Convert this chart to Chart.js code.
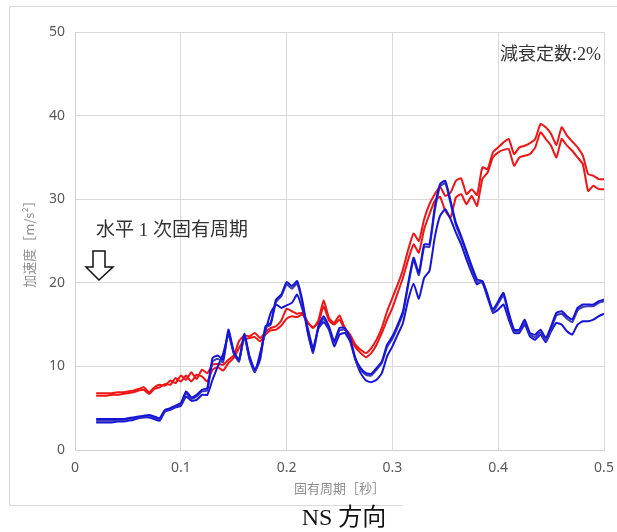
<!DOCTYPE html>
<html lang="ja">
<head>
<meta charset="UTF-8">
<title>NS 方向 加速度応答スペクトル</title>
<script src="https://cdn.jsdelivr.net/npm/chart.js"></script>
<style>
  body { margin: 0; padding: 0; background: #ffffff; }
  #wrap { position: relative; width: 617px; height: 532px; }
</style>
</head>
<body>
<div id="wrap"><canvas id="myChart" width="617" height="532"></canvas></div>
<script>
// 固有周期 [秒]
var periods = [
  0.020, 0.025, 0.030, 0.035, 0.040, 0.045, 0.050, 0.055, 0.060, 0.065,
  0.070, 0.075, 0.080, 0.085, 0.090, 0.095, 0.100, 0.105, 0.110, 0.115,
  0.120, 0.125, 0.130, 0.135, 0.140, 0.145, 0.150, 0.155, 0.160, 0.165,
  0.170, 0.175, 0.180, 0.185, 0.190, 0.195, 0.200, 0.205, 0.210, 0.215,
  0.220, 0.225, 0.230, 0.235, 0.240, 0.245, 0.250, 0.255, 0.260, 0.265,
  0.270, 0.275, 0.280, 0.285, 0.290, 0.295, 0.300, 0.305, 0.310, 0.315,
  0.320, 0.325, 0.330, 0.335, 0.340, 0.345, 0.350, 0.355, 0.360, 0.365,
  0.370, 0.375, 0.380, 0.385, 0.390, 0.395, 0.400, 0.405, 0.410, 0.415,
  0.420, 0.425, 0.430, 0.435, 0.440, 0.445, 0.450, 0.455, 0.460, 0.465,
  0.470, 0.475, 0.480, 0.485, 0.490, 0.495, 0.500
];

// 赤線 (上側)
var red1 = [
  6.8, 6.8, 6.8, 6.8, 6.9, 6.9, 7.0, 7.1, 7.3, 7.5,
  6.9, 7.5, 7.8, 7.7, 8.3, 8.0, 8.9, 8.4, 9.3, 8.5,
  9.6, 9.2, 10.2, 10.3, 10.2, 10.8, 11.3, 13.0, 13.7, 13.6,
  14.0, 13.4, 14.1, 14.6, 14.8, 15.5, 16.9, 16.6, 16.3, 16.4,
  15.3, 14.6, 15.5, 17.9, 15.8, 15.2, 16.1, 14.6, 13.8, 12.6,
  12.0, 11.6, 12.2, 13.2, 14.6, 16.6, 18.2, 19.8, 21.6, 24.0,
  25.9, 25.0, 27.6, 29.4, 30.6, 31.5, 30.4, 30.8, 32.2, 32.5,
  30.6, 31.2, 30.5, 33.8, 33.6, 35.6, 36.2, 36.8, 37.2, 35.4,
  36.2, 36.4, 36.7, 37.2, 39.0, 38.6, 37.8, 36.5, 38.6, 37.6,
  36.9, 36.2, 35.2, 33.0, 32.8, 32.4, 32.4
];

// 赤線 (下側)
var red2 = [
  6.5, 6.5, 6.5, 6.6, 6.6, 6.7, 6.8, 6.9, 7.1, 7.2,
  6.7, 7.3, 7.5, 7.9, 7.8, 8.6, 8.2, 8.9, 8.2, 9.0,
  8.8, 8.2, 9.6, 9.9, 9.5, 10.4, 11.0, 12.2, 13.2, 13.4,
  13.5, 13.0, 13.8, 14.3, 14.4, 14.9, 15.7, 16.0, 15.9, 16.2,
  15.2, 14.7, 15.2, 17.2, 15.5, 15.0, 15.6, 14.4, 13.5, 12.3,
  11.6, 11.1, 11.6, 12.6, 14.0, 15.6, 17.0, 18.8, 20.6, 22.8,
  24.6, 23.6, 26.4, 28.2, 29.8, 30.3, 28.6, 27.8, 30.2, 30.6,
  29.4, 30.4, 29.2, 32.4, 33.2, 35.0, 35.6, 35.9, 36.0, 34.0,
  35.0, 35.2, 35.4, 36.2, 38.0, 37.2, 36.4, 35.0, 37.2, 36.4,
  35.8, 35.0, 34.2, 31.0, 31.6, 31.2, 31.2
];

// 青線 (上側)
var blue1 = [
  3.7, 3.7, 3.7, 3.7, 3.7, 3.7, 3.8, 3.9, 4.0, 4.1,
  4.2, 4.0, 3.8, 4.8, 5.0, 5.3, 5.6, 7.0, 6.3, 6.6,
  7.2, 7.4, 11.0, 11.3, 10.8, 14.4, 11.8, 10.8, 13.9, 11.2,
  9.6, 11.0, 14.8, 15.2, 18.0, 18.6, 20.1, 19.6, 20.2, 17.8,
  14.2, 11.8, 14.8, 16.0, 14.8, 13.0, 14.6, 14.6, 13.4, 11.0,
  9.8, 9.2, 9.1, 9.8, 10.6, 12.6, 13.6, 15.0, 16.6, 20.0,
  23.0, 21.2, 24.6, 24.6, 29.0, 31.8, 32.2, 29.8, 27.2, 25.6,
  23.8, 22.0, 20.4, 20.2, 18.4, 16.8, 17.8, 18.8, 16.4, 14.4,
  14.4, 15.6, 14.0, 13.8, 14.4, 13.4, 14.8, 16.4, 16.6, 16.0,
  15.6, 17.0, 17.4, 17.4, 17.4, 17.8, 18.0
];

// 青線 (上側・重なり)
var blue2 = [
  3.5, 3.5, 3.5, 3.5, 3.6, 3.6, 3.7, 3.8, 3.9, 4.0,
  4.1, 3.9, 3.7, 4.7, 4.9, 5.2, 5.5, 6.8, 6.1, 6.4,
  7.0, 7.1, 10.6, 10.9, 10.5, 14.2, 11.6, 10.6, 13.7, 11.0,
  9.4, 10.8, 14.6, 15.0, 17.7, 18.4, 19.8, 19.3, 19.9, 17.5,
  14.0, 11.6, 14.6, 15.7, 14.6, 12.8, 14.3, 14.4, 13.2, 10.8,
  9.6, 9.0, 8.9, 9.6, 10.4, 12.3, 13.3, 14.7, 16.3, 19.7,
  22.7, 20.9, 24.3, 24.3, 28.6, 31.5, 31.9, 29.5, 26.9, 25.3,
  23.5, 21.7, 20.1, 20.0, 18.2, 16.5, 17.5, 18.5, 16.1, 14.2,
  14.2, 15.3, 13.8, 13.5, 14.1, 13.1, 14.5, 16.1, 16.3, 15.7,
  15.3, 16.7, 17.1, 17.2, 17.2, 17.6, 17.8
];

// 青線 (下側)
var blue3 = [
  3.3, 3.3, 3.3, 3.3, 3.4, 3.4, 3.5, 3.6, 3.8, 3.9,
  3.9, 3.7, 3.5, 4.6, 4.8, 5.1, 5.3, 6.4, 5.9, 6.0,
  6.6, 6.6, 8.4, 10.0, 11.5, 13.8, 11.6, 10.6, 13.6, 10.8,
  9.3, 11.6, 14.2, 16.4, 17.4, 17.0, 17.3, 17.6, 18.6, 16.8,
  14.6, 12.2, 14.5, 15.3, 14.4, 12.4, 13.8, 14.0, 13.0, 10.8,
  9.2, 8.3, 8.1, 8.4, 9.2, 11.2, 12.4, 13.8, 15.2, 18.0,
  19.9, 18.1, 20.6, 21.4, 25.4, 28.0, 28.8, 27.6, 26.0, 24.6,
  22.8, 21.2, 19.8, 20.2, 18.6, 16.4, 16.8, 17.4, 15.6, 14.0,
  14.0, 15.0, 13.6, 13.2, 13.8, 12.9, 14.2, 15.2, 15.0, 14.2,
  13.8, 15.0, 15.4, 15.4, 15.6, 16.0, 16.3
];

var xTicks = [0, 0.1, 0.2, 0.3, 0.4, 0.5];
var yTicks = [0, 10, 20, 30, 40, 50];

function puntos(vals) {
  return periods.map(function (p, i) { return { x: p, y: vals[i] }; });
}

function serie(vals, color) {
  return {
    data: puntos(vals),
    borderColor: color,
    borderWidth: 2,
    pointRadius: 0,
    tension: 0.15,
    fill: false
  };
}

// 注記・外枠・キャプション
var notas = {
  id: 'notas',
  afterDraw: function (chart) {
    var c = chart.ctx;
    c.save();
    // 外枠
    c.strokeStyle = '#d9d9d9';
    c.lineWidth = 1;
    c.beginPath();
    c.moveTo(403, 505.5);
    c.lineTo(9.5, 505.5);
    c.lineTo(9.5, 6.5);
    c.lineTo(617, 6.5);
    c.stroke();

    c.fillStyle = '#333333';
    c.textBaseline = 'middle';
    c.font = '18px "Liberation Serif", "Noto Sans CJK JP"';
    c.textAlign = 'right';
    c.fillText('減衰定数:2%', 601, 55);
    c.textAlign = 'left';
    c.font = '19px "Liberation Serif", "Noto Sans CJK JP"';
    c.fillText('水平 1 次固有周期', 96, 231);

    // 下向き矢印
    c.fillStyle = '#ffffff';
    c.strokeStyle = '#111111';
    c.lineWidth = 1.5;
    c.beginPath();
    c.moveTo(93, 251);
    c.lineTo(105, 251);
    c.lineTo(105, 267);
    c.lineTo(113, 267);
    c.lineTo(99, 280);
    c.lineTo(86, 267);
    c.lineTo(93, 267);
    c.closePath();
    c.fill();
    c.stroke();

    // キャプション
    c.fillStyle = '#111111';
    c.textAlign = 'center';
    c.font = '24px "Liberation Serif", "Noto Sans CJK JP"';
    c.fillText('NS 方向', 344, 519);
    c.restore();
  }
};

var ctx = document.getElementById('myChart').getContext('2d');
var myChart = new Chart(ctx, {
  type: 'line',
  data: {
    datasets: [
      serie(blue1, '#1414dc'),
      serie(blue2, '#3c3cb4'),
      serie(blue3, '#1414dc'),
      serie(red1, '#f01414'),
      serie(red2, '#f01414')
    ]
  },
  options: {
    responsive: false,
    animation: false,
    layout: { padding: { left: 17, right: 13, top: 32, bottom: 32 } },
    plugins: {
      legend: { display: false },
      tooltip: { enabled: false }
    },
    scales: {
      x: {
        type: 'linear',
        min: 0,
        max: 0.5,
        afterBuildTicks: function (axis) {
          axis.ticks = xTicks.map(function (v) { return { value: v }; });
        },
        afterFit: function (axis) {
          axis.height = 50;
          axis.paddingLeft = 0;
          axis.paddingRight = 0;
        },
        grid: { color: '#d9d9d9', drawTicks: false },
        border: { color: '#d0d0d0' },
        ticks: {
          color: '#595959',
          padding: 10,
          font: { family: '"Noto Sans", sans-serif', size: 14 },
          callback: function (v) { return String(v); }
        },
        title: {
          display: true,
          text: '固有周期［秒］',
          color: '#8c8c8c',
          padding: { top: 5 },
          font: { family: '"Noto Sans CJK JP"', size: 13 }
        }
      },
      y: {
        min: 0,
        max: 50,
        afterBuildTicks: function (axis) {
          axis.ticks = yTicks.map(function (v) { return { value: v }; });
        },
        afterFit: function (axis) { axis.width = 58; },
        grid: { color: '#d9d9d9', drawTicks: false },
        border: { color: '#d0d0d0' },
        ticks: {
          color: '#595959',
          padding: 10,
          font: { family: '"Noto Sans", sans-serif', size: 14 }
        },
        title: {
          display: true,
          text: '加速度［m/s²］',
          color: '#8c8c8c',
          font: { family: '"Noto Sans CJK JP"', size: 13 }
        }
      }
    }
  },
  plugins: [notas]
});
</script>
</body>
</html>
